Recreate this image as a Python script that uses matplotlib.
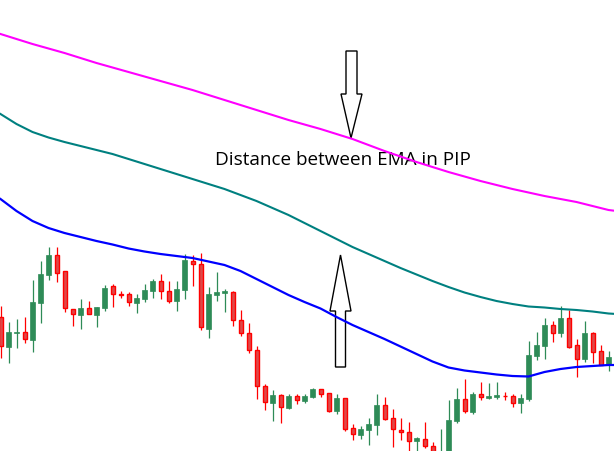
import matplotlib
matplotlib.use("Agg")
import matplotlib.pyplot as plt
from matplotlib.patches import Polygon
import numpy as np

# ---- candle data (price units) ----
opens  = [142,112,126.5,127,119,156,184,204,188,150,144,151,144,151,173,165,165,156,160,168,
          178,168,158,169,198,195,130,164.5,166,167,139,126,109,73,56,64,51,63,58,62,
          70,66,48,61,31,24,29,34,54,41,29,27,18,20,13,-10,-2,38,60,47,
          65,61,62,63.5,63,56,60,103,113,134,126,141,114,100,126,108,94]
highs  = [153,137,140,142,179,198,212,212,188,150,160,158,152,174,175,168,167,165,175,180,
          185,178,178,205,204,206,172,187,170,168,149,136,113,75,69,65,65,65,65,71,
          70,66,65,61,35,33,41,65,62,50,41,37,22,37,17,30,59,71,80,67,
          77,76,77,67,65,65,118,127,141,138,153,149,120,138,127,114,108]
lows   = [101,96,111,116,107,136,179,177,147,133,130,145,132,148,152,161,153,146,157,161,
          160,156,148,160,173,129,121,158,147,133,123,106,60,49,38,36,50,55,56,61,
          62,47,45,28,19,20,14,24,39,12,19,6,6,11,0,-15,-5,36,46,45,
          59,60,60,59,52,46,58,99,100,117,122,111,82,97,96,94,88]
closes = [113,127,127,120,157,185,204,186,151,145,151,145,152,171,165,164.5,157,161,169,178,
          168,158,170,199,195,132,165,167,168,139,126,109,73,57,64,52,63,59,63,70,
          65,48,61,30,25,30,35,54,40,30,27,18,21,13,2,0,39,60,48,65,
          62,63,64,63,56,61,104,114,134,126,141,112,100,126,107,94,102]

# ---- moving averages (read at every 2nd candle) ----
ema_idx  = [0,2,4,6,8,10,12,14,16,18,20,22,24,26,28,30,32,34,36,38,
            40,42,44,46,48,50,52,54,56,58,60,62,64,66,68,70,72,74,76,77]
ema_slow = [425,420,415,410.5,406,401,396,391.5,387,382.5,378,373.5,369,364,359,354,349,344,339,334.5,
            330,325,320,314,308,302.5,297,292,287,282.5,278,274,270,266.5,263,260,257,253,249,248]
ema_mid  = [345,335,327,321.5,317,313,309,305,300,295,290,285,280,275,270,264,258,251,244,236,
            228,220,212,205,198,191,184.5,178,172,166.5,162,158,155,152.5,151.5,150,149,147.5,145.5,145]
ema_fast = [260,248,238,231,226,222,218,214.5,210.5,207.5,205,203,201,197.5,194,188,180,172,164,157,
            150.5,142,134,127,120,112.5,105,97.5,91.5,88.5,86.5,84.5,83,82.5,87,90,92,93,94,94]

label_text = "Distance between EMA in PIP"

W, H = 614, 452
fig = plt.figure(figsize=(W/100, H/100), dpi=100)
fig.patch.set_facecolor("white")

# overlay (pixel coordinates) for annotation arrows and text, beneath the chart lines
ov = fig.add_axes([0, 0, 1, 1])
ov.set_xlim(0, W)
ov.set_ylim(H, 0)
ov.axis("off")
ov.set_zorder(1)

ax = fig.add_axes([0, 0, 1, 1])
ax.set_zorder(2)
ax.patch.set_visible(False)
ax.set_xlim(-0.0625, 76.6875)
ax.set_ylim(8, 460)
ax.axis("off")

o = np.array(opens, float); h = np.array(highs, float)
l = np.array(lows, float); c = np.array(closes, float)
x = np.arange(len(o))
up = c >= o
green = "#2E8B57"
red_edge = "#FF0000"
red_fill = "#DF4848"

ax.vlines(x[up], l[up], h[up], color=green, lw=0.9, zorder=2)
ax.vlines(x[~up], l[~up], h[~up], color=red_edge, lw=0.9, zorder=2)
bot = np.minimum(o, c); ht = np.abs(c - o)
ax.bar(x[up], ht[up], bottom=bot[up], width=0.6, color=green, edgecolor=green, lw=0.5, zorder=3)
ax.bar(x[~up], ht[~up], bottom=bot[~up], width=0.5, color=red_fill, edgecolor=red_edge, lw=1.0, zorder=3)

ax.plot(ema_idx, ema_slow, color="#FF00FF", lw=1.5, zorder=4)
ax.plot(ema_idx, ema_mid, color="#008080", lw=1.5, zorder=4)
ax.plot(ema_idx, ema_fast, color="#0000FF", lw=1.6, zorder=4)

# arrows (pixel coords)
down = [(346, 52), (357, 52), (357, 95), (362, 95), (351, 139), (341, 95), (346, 95)]
upar = [(335.5, 368), (345.5, 368), (345.5, 312), (351, 312), (340.5, 256), (330, 312), (335.5, 312)]
for pts in (down, upar):
    ov.add_patch(Polygon(pts, closed=True, facecolor="white", edgecolor="black", lw=1.0))

ov.text(343, 160, label_text, ha="center", va="center", fontsize=13.6,
        family="Open Sans", color="black")

fig.savefig("out.png", dpi=100, facecolor="white")
